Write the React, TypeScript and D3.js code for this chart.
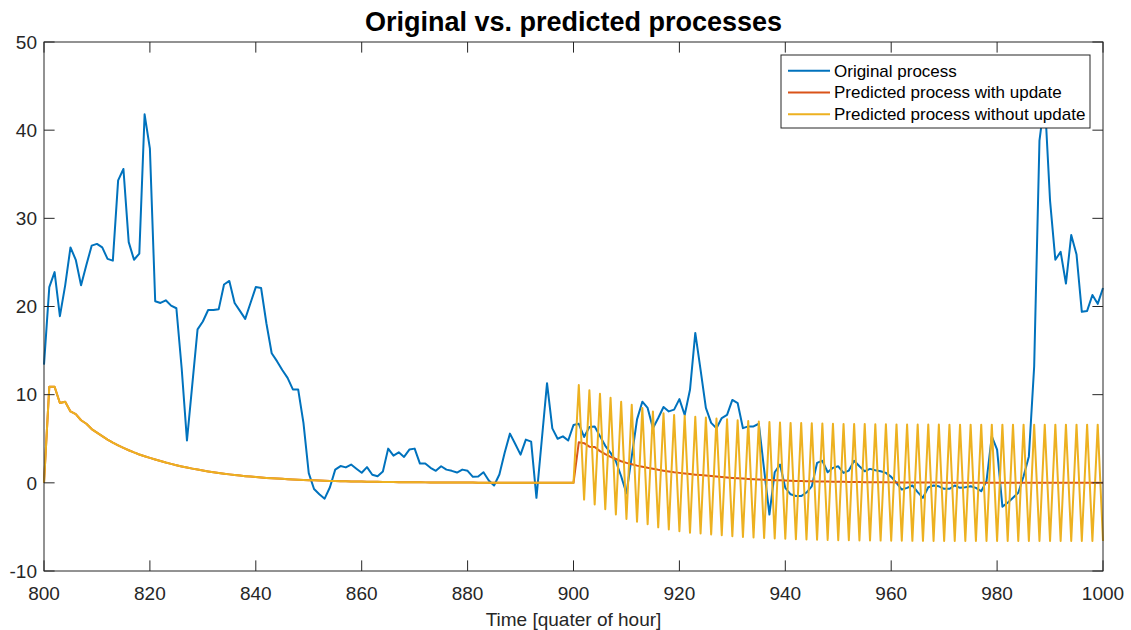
import React, { useEffect, useRef } from "react";
import * as d3 from "d3";

// Time axis: quarters of an hour, one sample per step
const T_START = 800;
const T_END = 1000;

const originalProcess: number[] = [
  13.4, 22.2, 23.9, 18.9, 22.4, 26.7, 25.3, 22.4, 24.7, 26.9,
  27.1, 26.7, 25.4, 25.2, 34.3, 35.6, 27.3, 25.3, 26.0, 41.8,
  37.9, 20.6, 20.4, 20.7, 20.1, 19.8, 13.0, 4.8, 11.1, 17.4,
  18.3, 19.6, 19.6, 19.7, 22.5, 22.9, 20.4, 19.5, 18.6, 20.4,
  22.2, 22.1, 18.1, 14.7, 13.8, 12.8, 11.9, 10.6, 10.6, 6.8,
  1.1, -0.7, -1.3, -1.8, -0.5, 1.5, 1.9, 1.75, 2.07, 1.6,
  1.15, 1.78, 0.92, 0.75, 1.28, 3.88, 3.09, 3.46, 2.94, 3.77,
  3.88, 2.18, 2.2, 1.7, 1.36, 1.88, 1.5, 1.36, 1.17, 1.5,
  1.36, 0.68, 0.71, 1.2, 0.26, -0.3, 0.94, 3.4, 5.58, 4.4,
  3.2, 4.9, 4.67, -1.7, 4.8, 11.3, 6.18, 5.0, 5.27, 4.8,
  6.56, 6.7, 5.2, 6.33, 6.4, 5.3, 4.2, 3.4, 2.45, 0.75,
  -1.2, 3.0, 7.2, 9.2, 8.5, 6.2, 7.35, 8.6, 8.1, 8.3,
  9.5, 7.7, 10.55, 17.0, 12.8, 8.5, 6.8, 6.2, 7.35, 7.7,
  9.4, 9.05, 6.2, 6.4, 6.4, 6.7, 1.5, -3.6, 1.2, 2.07,
  -0.57, -1.3, -1.5, -1.5, -1.1, -0.4, 2.26, 2.5, 1.2, 1.7,
  1.88, 1.13, 1.39, 2.5, 1.88, 1.31, 1.58, 1.43, 1.31, 1.13,
  0.68, 0.0, -0.76, -0.57, -0.3, -1.06, -1.7, -0.5, -0.3, -0.4,
  -0.68, -0.68, -0.3, -0.57, -0.5, -0.38, -0.57, -0.95, 0.19, 5.27,
  3.77, -2.7, -2.26, -1.7, -1.13, 0.75, 3.0, 13.2, 38.8, 43.5,
  32.0, 25.3, 26.2, 22.6, 28.1, 25.9, 19.4, 19.5, 21.3, 20.3,
  22.1,
];

// Prediction over the first window (shared by both predictors)
const predictedFirstWindow: number[] = [
  0, 10.9, 10.9, 9.05, 9.2, 8.1, 7.8, 7.1, 6.7, 6.1,
  5.7, 5.3, 4.9, 4.55, 4.25, 3.96, 3.7, 3.45, 3.22, 3.02,
  2.83, 2.65, 2.47, 2.3, 2.15, 2.0, 1.86, 1.73, 1.61, 1.5,
  1.39, 1.29, 1.2, 1.11, 1.03, 0.96, 0.89, 0.82, 0.76, 0.71,
  0.66, 0.61, 0.56, 0.52, 0.48, 0.45, 0.41, 0.38, 0.35, 0.33,
  0.3, 0.28, 0.26, 0.24, 0.22, 0.2, 0.19, 0.17, 0.16, 0.15,
  0.14, 0.13, 0.12, 0.11, 0.1, 0.09, 0.085, 0.078, 0.072, 0.066,
  0.061, 0.056, 0.052, 0.048, 0.044, 0.04, 0.037, 0.034, 0.031, 0.029,
  0.027, 0.025, 0.023, 0.021, 0.019, 0.018, 0.016, 0.015, 0.014, 0.013,
  0.012, 0.011, 0.01, 0.009, 0.008, 0.008, 0.007, 0.007, 0.006, 0.006,
  0.005,
];

// Second window (steps 901..1000)
const predictedWithUpdateSecond: number[] = [
  4.6, 4.5, 4.1, 4.07, 3.6, 3.25, 2.95, 2.7, 2.45, 2.26,
  2.1, 1.95, 1.82, 1.7, 1.6, 1.48, 1.38, 1.29, 1.2, 1.13,
  1.06, 0.99, 0.93, 0.88, 0.83, 0.77, 0.71, 0.66, 0.61, 0.56,
  0.52, 0.48, 0.44, 0.4, 0.37, 0.34, 0.32, 0.3, 0.28, 0.26,
  0.24, 0.22, 0.2, 0.19, 0.17, 0.16, 0.15, 0.14, 0.13, 0.12,
  0.11, 0.1, 0.09, 0.085, 0.078, 0.072, 0.066, 0.061, 0.056, 0.052,
  0.048, 0.044, 0.04, 0.037, 0.034, 0.031, 0.029, 0.027, 0.025, 0.023,
  0.021, 0.019, 0.018, 0.016, 0.015, 0.014, 0.013, 0.012, 0.011, 0.01,
  0.009, 0.008, 0.008, 0.007, 0.007, 0.006, 0.006, 0.005, 0.005, 0.004,
  0.004, 0.004, 0.003, 0.003, 0.003, 0.003, 0.002, 0.002, 0.002, 0.002,
];

const predictedWithoutUpdateSecond: number[] = [
  11.1, -1.9, 10.5, -2.45, 10.1, -3.0, 9.65, -3.6, 9.2, -4.1,
  8.86, -4.4, 8.5, -4.7, 8.1, -5.05, 7.9, -5.3, 7.7, -5.5,
  7.6, -5.65, 7.5, -5.75, 7.4, -5.85, 7.3, -5.95, 7.2, -6.05,
  7.1, -6.15, 7.0, -6.2, 6.95, -6.25, 6.9, -6.3, 6.85, -6.35,
  6.8, -6.4, 6.78, -6.42, 6.75, -6.45, 6.72, -6.47, 6.7, -6.5,
  6.68, -6.52, 6.67, -6.53, 6.66, -6.54, 6.65, -6.55, 6.64, -6.56,
  6.63, -6.57, 6.62, -6.58, 6.62, -6.58, 6.61, -6.59, 6.61, -6.59,
  6.6, -6.6, 6.6, -6.6, 6.6, -6.6, 6.6, -6.6, 6.6, -6.6,
  6.6, -6.6, 6.6, -6.6, 6.6, -6.6, 6.6, -6.6, 6.6, -6.6,
  6.6, -6.6, 6.6, -6.6, 6.6, -6.6, 6.6, -6.6, 6.6, -6.6,
];

const predictedWithUpdate = [...predictedFirstWindow, ...predictedWithUpdateSecond];
const predictedWithoutUpdate = [...predictedFirstWindow, ...predictedWithoutUpdateSecond];

const xTicks = [800, 820, 840, 860, 880, 900, 920, 940, 960, 980, 1000];
const yTicks = [-10, 0, 10, 20, 30, 40, 50];

const seriesNames = [
  "Original process",
  "Predicted process with update",
  "Predicted process without update",
];
const seriesColors = ["#0072BD", "#D95319", "#EDB120"];

const W = 1131;
const H = 630;
const M = { left: 44, right: 1103, top: 42, bottom: 571 };
const AX = "#262626";
const FONT = "'Liberation Sans', Arial, Helvetica, sans-serif";

export default function App() {
  const ref = useRef<SVGSVGElement>(null);

  useEffect(() => {
    document.body.style.margin = "0";
    const svg = d3.select(ref.current);
    svg.selectAll("*").remove();

    const x = d3.scaleLinear().domain([T_START, T_END]).range([M.left, M.right]);
    const y = d3.scaleLinear().domain([-10, 50]).range([M.bottom, M.top]);
    const steps = d3.range(T_START, T_END + 1);

    svg.append("rect").attr("width", W).attr("height", H).attr("fill", "#fff");

    const line = d3
      .line<number>()
      .x((_, i) => x(steps[i]))
      .y((d) => y(d));

    const series = [originalProcess, predictedWithUpdate, predictedWithoutUpdate];
    series.forEach((s, k) => {
      svg
        .append("path")
        .datum(s)
        .attr("d", line)
        .attr("fill", "none")
        .attr("stroke", seriesColors[k])
        .attr("stroke-width", 2)
        .attr("stroke-linejoin", "round");
    });

    // Box and ticks on all four sides
    const tickLen = 10.6;
    const g = svg.append("g").attr("stroke", AX).attr("stroke-width", 1).attr("fill", "none");
    g.append("rect")
      .attr("x", M.left)
      .attr("y", M.top)
      .attr("width", M.right - M.left)
      .attr("height", M.bottom - M.top);
    xTicks.forEach((t) => {
      g.append("line").attr("x1", x(t)).attr("x2", x(t)).attr("y1", M.bottom).attr("y2", M.bottom - tickLen);
      g.append("line").attr("x1", x(t)).attr("x2", x(t)).attr("y1", M.top).attr("y2", M.top + tickLen);
    });
    yTicks.forEach((v) => {
      g.append("line").attr("x1", M.left).attr("x2", M.left + tickLen).attr("y1", y(v)).attr("y2", y(v));
      g.append("line").attr("x1", M.right).attr("x2", M.right - tickLen).attr("y1", y(v)).attr("y2", y(v));
    });

    const txt = svg.append("g").attr("fill", AX).style("font-family", FONT);
    xTicks.forEach((t) => {
      txt
        .append("text")
        .attr("x", x(t))
        .attr("y", 600)
        .attr("text-anchor", "middle")
        .style("font-size", "19px")
        .text(String(t));
    });
    yTicks.forEach((v) => {
      txt
        .append("text")
        .attr("x", 37)
        .attr("y", y(v) + 6.8)
        .attr("text-anchor", "end")
        .style("font-size", "19px")
        .text(String(v));
    });
    txt
      .append("text")
      .attr("x", (M.left + M.right) / 2)
      .attr("y", 626)
      .attr("text-anchor", "middle")
      .style("font-size", "19px")
      .text("Time [quater of hour]");

    svg
      .append("text")
      .attr("x", (M.left + M.right) / 2)
      .attr("y", 30.5)
      .attr("text-anchor", "middle")
      .attr("fill", "#000")
      .style("font-family", FONT)
      .style("font-weight", "bold")
      .style("font-size", "27px")
      .text("Original vs. predicted processes");

    // Legend
    const lg = svg.append("g");
    lg.append("rect")
      .attr("x", 781)
      .attr("y", 55)
      .attr("width", 1090 - 781)
      .attr("height", 128 - 55)
      .attr("fill", "#fff")
      .attr("stroke", AX)
      .attr("stroke-width", 1);
    seriesNames.forEach((name, i) => {
      const cy = 70.7 + i * 21.8;
      lg.append("line")
        .attr("x1", 788)
        .attr("x2", 830)
        .attr("y1", cy)
        .attr("y2", cy)
        .attr("stroke", seriesColors[i])
        .attr("stroke-width", 2);
      lg.append("text")
        .attr("x", 834)
        .attr("y", cy + 5.8)
        .attr("fill", "#000")
        .style("font-family", FONT)
        .style("font-size", "17px")
        .text(name);
    });
  }, []);

  return <svg ref={ref} width={W} height={H} style={{ display: "block" }} />;
}
